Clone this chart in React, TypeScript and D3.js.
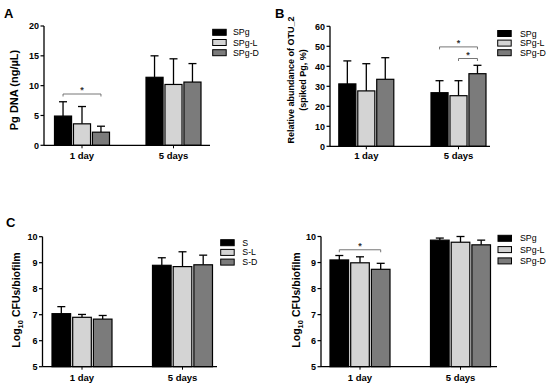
import React, { useEffect, useRef } from "react";
import * as d3 from "d3";

// groups on the x axis
const groups = ["1 day", "5 days"];

// panel A: Pg DNA (ng/µL)
const seriesA = ["SPg", "SPg-L", "SPg-D"];
const meanA = [[4.9, 3.6, 2.2], [11.4, 10.2, 10.6]];
const upperA = [[7.3, 6.5, 3.2], [15.0, 14.5, 13.7]];
const ticksA = [0, 5, 10, 15, 20];

// panel B: relative abundance of OTU_2
const seriesB = ["SPg", "SPg-L", "SPg-D"];
const meanB = [[31.2, 27.7, 33.5], [26.8, 25.3, 36.3]];
const upperB = [[42.7, 41.3, 44.3], [32.8, 32.8, 40.5]];
const ticksB = [0, 10, 20, 30, 40, 50, 60];

// panel C left: log10 CFUs, S
const seriesC1 = ["S", "S-L", "S-D"];
const meanC1 = [[7.04, 6.9, 6.83], [8.9, 8.85, 8.92]];
const upperC1 = [[7.31, 7.01, 6.97], [9.19, 9.42, 9.29]];

// panel C right: log10 CFUs, SPg
const seriesC2 = ["SPg", "SPg-L", "SPg-D"];
const meanC2 = [[9.1, 8.99, 8.74], [9.86, 9.78, 9.68]];
const upperC2 = [[9.27, 9.22, 8.97], [9.94, 10.0, 9.86]];
const ticksC = [5, 6, 7, 8, 9, 10];

// significance brackets: [group, fromBar, toBar, level]
const sigA = [[0, 0, 2, 8.6]];
const sigB = [[1, 0, 2, 49.7], [1, 1, 2, 43.9]];
const sigC2 = [[0, 0, 2, 9.49]];

const fills = ["#000000", "#d4d4d4", "#7b7b7b"];
const FONT = "'Liberation Sans', Arial, sans-serif";

const panels = [
  {
    series: seriesA, mean: meanA, upper: upperA, ticks: ticksA, sig: sigA,
    domain: [0, 20], yRange: [145.3, 26], axisX: [44, 210], centers: [82, 173.5], half: 27.5,
    legend: { x: 212.7, y: 32.3, dy: 10.2, tx: 233 }, labelY: 158.5,
  },
  {
    series: seriesB, mean: meanB, upper: upperB, ticks: ticksB, sig: sigB,
    domain: [0, 60], yRange: [146.3, 26.3], axisX: [330, 490], centers: [366.3, 458.5], half: 27.5,
    legend: { x: 497.7, y: 33.5, dy: 9.6, tx: 520 }, labelY: 159,
  },
  {
    series: seriesC1, mean: meanC1, upper: upperC1, ticks: ticksC, sig: [],
    domain: [5, 10], yRange: [366.7, 236.7], axisX: [42.5, 217], centers: [82, 182.5], half: 30,
    legend: { x: 220.7, y: 242.7, dy: 9.7, tx: 242.3 }, labelY: 380.5,
  },
  {
    series: seriesC2, mean: meanC2, upper: upperC2, ticks: ticksC, sig: sigC2,
    domain: [5, 10], yRange: [366.7, 236.5], axisX: [321, 497], centers: [360, 460.5], half: 30,
    legend: { x: 498, y: 238.3, dy: 11.3, tx: 520 }, labelY: 380.5,
  },
];

function App() {
  const ref = useRef<SVGSVGElement>(null);

  useEffect(() => {
    const svg = d3.select(ref.current);
    svg.selectAll("*").remove();

    panels.forEach((p) => {
      const g = svg.append("g");
      const y = d3.scaleLinear().domain(p.domain).range(p.yRange);
      const x = d3.scalePoint().domain(groups).range(p.centers);
      const inner = d3.scaleBand().domain(p.series).range([-p.half, p.half]).paddingInner(0.1);
      const bw = inner.bandwidth();
      const barX = (gi: number, si: number) => (x(groups[gi]) as number) + (inner(p.series[si]) as number);

      // bars
      groups.forEach((grp, gi) => {
        p.series.forEach((s, si) => {
          const cx = barX(gi, si) + bw / 2;
          // error bar (upper only)
          g.append("line")
            .attr("x1", cx).attr("x2", cx)
            .attr("y1", y(p.mean[gi][si])).attr("y2", y(p.upper[gi][si]))
            .attr("stroke", "#000").attr("stroke-width", 1.3);
          g.append("line")
            .attr("x1", cx - 4).attr("x2", cx + 4)
            .attr("y1", y(p.upper[gi][si])).attr("y2", y(p.upper[gi][si]))
            .attr("stroke", "#000").attr("stroke-width", 1.3);
          g.append("rect")
            .attr("x", barX(gi, si))
            .attr("y", y(p.mean[gi][si]))
            .attr("width", bw)
            .attr("height", y(p.domain[0]) - y(p.mean[gi][si]))
            .attr("fill", fills[si])
            .attr("stroke", "#000")
            .attr("stroke-width", 1.2);
        });
      });

      // y axis
      const y0 = y(p.domain[0]);
      g.append("line")
        .attr("x1", p.axisX[0]).attr("x2", p.axisX[0])
        .attr("y1", y0).attr("y2", y(p.domain[1]))
        .attr("stroke", "#000").attr("stroke-width", 1.3);
      p.ticks.forEach((t) => {
        g.append("line")
          .attr("x1", p.axisX[0] - 3.5).attr("x2", p.axisX[0])
          .attr("y1", y(t)).attr("y2", y(t))
          .attr("stroke", "#000").attr("stroke-width", 1.2);
        g.append("text")
          .attr("x", p.axisX[0] - 5).attr("y", y(t) + 3.2)
          .attr("text-anchor", "end")
          .style("font", `bold 9px ${FONT}`)
          .text(t);
      });

      // x axis
      g.append("line")
        .attr("x1", p.axisX[0]).attr("x2", p.axisX[1])
        .attr("y1", y0).attr("y2", y0)
        .attr("stroke", "#000").attr("stroke-width", 1.3);
      groups.forEach((grp) => {
        const cx = x(grp) as number;
        g.append("line")
          .attr("x1", cx).attr("x2", cx)
          .attr("y1", y0).attr("y2", y0 + 3)
          .attr("stroke", "#000").attr("stroke-width", 1);
        g.append("text")
          .attr("x", cx).attr("y", p.labelY)
          .attr("text-anchor", "middle")
          .style("font", `bold 9.5px ${FONT}`)
          .text(grp);
      });

      // significance brackets
      p.sig.forEach(([gi, a, b, lvl]) => {
        const xa = barX(gi, a) + bw / 2;
        const xb = barX(gi, b) + bw / 2;
        const ly = y(lvl);
        g.append("path")
          .attr("d", `M${xa},${ly + 2.5}V${ly}H${xb}V${ly + 2.5}`)
          .attr("fill", "none")
          .attr("stroke", "#666")
          .attr("stroke-width", 0.9);
        g.append("text")
          .attr("x", (xa + xb) / 2).attr("y", ly - 1)
          .attr("text-anchor", "middle")
          .style("font", `bold 9px ${FONT}`)
          .attr("fill", "#333")
          .text("*");
      });

      // legend
      p.series.forEach((s, si) => {
        const ly = p.legend.y + si * p.legend.dy;
        g.append("rect")
          .attr("x", p.legend.x).attr("y", ly - 3)
          .attr("width", 13.5).attr("height", 6)
          .attr("fill", fills[si])
          .attr("stroke", "#000").attr("stroke-width", 1);
        g.append("text")
          .attr("x", p.legend.tx).attr("y", ly + 3)
          .style("font", `8.8px ${FONT}`)
          .text(s);
      });
    });

    // y axis titles
    svg.append("text")
      .attr("transform", "translate(18,90) rotate(-90)")
      .attr("text-anchor", "middle")
      .style("font", `bold 11px ${FONT}`)
      .text("Pg DNA (ng/µL)");
    svg.append("text")
      .attr("transform", "translate(293.5,80) rotate(-90)")
      .attr("text-anchor", "middle")
      .style("font", `bold 9px ${FONT}`)
      .text("Relative abundance of OTU_2");
    svg.append("text")
      .attr("transform", "translate(305.5,80) rotate(-90)")
      .attr("text-anchor", "middle")
      .style("font", `bold 9px ${FONT}`)
      .text("(spiked Pg, %)");
    [20, 300].forEach((tx) => {
      const t = svg.append("text")
        .attr("transform", `translate(${tx},300) rotate(-90)`)
        .attr("text-anchor", "middle")
        .style("font", `bold 10.5px ${FONT}`);
      t.append("tspan").text("Log");
      t.append("tspan").attr("dy", 3).style("font-size", "7.5px").text("10");
      t.append("tspan").attr("dy", -3).text(" CFUs/biofilm");
    });

    // panel letters
    [["A", 4, 18], ["B", 275, 18], ["C", 6, 227]].forEach(([l, tx, ty]) => {
      svg.append("text")
        .attr("x", tx).attr("y", ty)
        .style("font", `bold 13px ${FONT}`)
        .text(l as string);
    });
  }, []);

  return (
    <svg
      ref={ref}
      width={550}
      height={385}
      style={{ position: "absolute", left: 0, top: 0, background: "#fff" }}
    />
  );
}

export default App;
